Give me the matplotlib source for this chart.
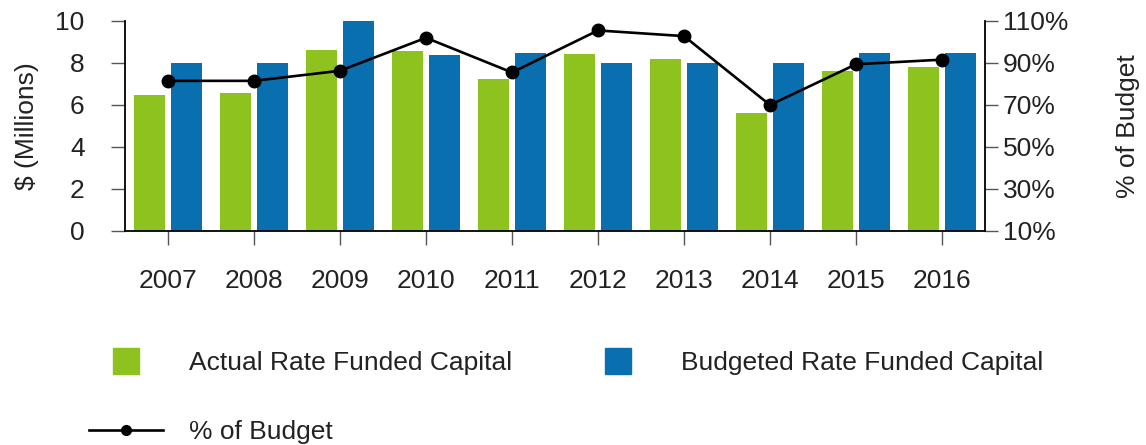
import numpy as np
import matplotlib
matplotlib.use("Agg")
import matplotlib.pyplot as plt
from matplotlib.lines import Line2D
from matplotlib.ticker import FuncFormatter

# Rate funded capital, $ millions
years = ["2007", "2008", "2009", "2010", "2011",
         "2012", "2013", "2014", "2015", "2016"]
actual = [6.5, 6.55, 8.6, 8.55, 7.25, 8.45, 8.2, 5.6, 7.6, 7.8]
budgeted = [8.0, 8.0, 10.0, 8.4, 8.5, 8.0, 8.0, 8.0, 8.5, 8.5]
pct_of_budget = [81.5, 81.5, 86.3, 102.0, 85.5, 105.5, 102.8, 70.0, 89.4, 91.6]

GREEN = "#8dc21f"
BLUE = "#0a6fae"
TEXT = "#222222"
FS = 19

plt.rcParams["font.family"] = ["Liberation Sans", "DejaVu Sans"]

fig = plt.figure(figsize=(11.46, 4.45), dpi=100)
ax = fig.add_axes([125 / 1146, 1 - 231 / 445, 860 / 1146, 210 / 445])

x = np.arange(len(years))
w = 0.36
ax.bar(x - 0.215, actual, w, color=GREEN, zorder=2)
ax.bar(x + 0.215, budgeted, w, color=BLUE, zorder=2)

ax.set_xlim(-0.5, len(years) - 0.5)
ax.set_ylim(0, 10)
ax.set_yticks(range(0, 11, 2))
ax.set_xticks(x)
ax.set_xticklabels(years)

for side in ["top", "right"]:
    ax.spines[side].set_visible(False)
ax.spines["left"].set_linewidth(1.3)
ax.spines["bottom"].set_linewidth(1.3)
ax.tick_params(axis="y", length=10, width=1, pad=19, labelsize=FS,
               labelcolor=TEXT, color="#555555")
ax.tick_params(axis="x", length=10, width=1, pad=17, labelsize=FS,
               labelcolor=TEXT, color="#555555")
ax.set_ylabel("$ (Millions)", fontsize=FS, color=TEXT, labelpad=12)

# Percent of budget on the secondary axis
ax2 = ax.twinx()
ax2.plot(x, pct_of_budget, color="black", lw=1.9, marker="o", ms=9, zorder=3)
ax2.set_ylim(10, 110)
ax2.set_yticks(range(10, 111, 20))
ax2.yaxis.set_major_formatter(FuncFormatter(lambda v, p: f"{v:.0f}%"))
for side in ["top", "left", "bottom"]:
    ax2.spines[side].set_visible(False)
ax2.spines["right"].set_linewidth(1.3)
ax2.tick_params(axis="y", length=9, width=1, pad=4, labelsize=FS,
                labelcolor=TEXT, color="#555555")
ax2.set_ylabel("% of Budget", fontsize=FS, color=TEXT, labelpad=34)

handles = [
    Line2D([], [], marker="s", ls="none", ms=19, color=GREEN),
    Line2D([], [], color="black", lw=1.9, marker="o", ms=7),
    Line2D([], [], marker="s", ls="none", ms=19, color=BLUE),
]
labels = ["Actual Rate Funded Capital", "% of Budget",
          "Budgeted Rate Funded Capital"]
fig.legend(handles, labels, ncol=2, loc="upper left",
           bbox_to_anchor=(76 / 1146, 1 - 338 / 445), frameon=False,
           fontsize=FS, handlelength=2.8, handletextpad=1.0,
           columnspacing=2.6, labelspacing=1.7, borderpad=0,
           labelcolor=TEXT)

fig.savefig("out.png", dpi=100)
